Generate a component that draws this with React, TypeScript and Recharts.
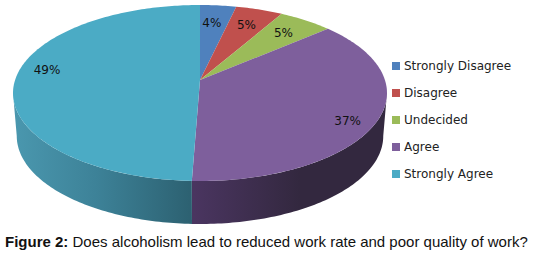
import React from "react";
import { PieChart, Pie, Legend } from "recharts";

const categories = ["Strongly Disagree", "Disagree", "Undecided", "Agree", "Strongly Agree"];
const values = [3.6, 4.7, 5.4, 36.9, 49.4];
const colors = ["#4f81bd", "#c0504d", "#9bbb59", "#7e5f9c", "#4babc5"];
const labelRadii = [0.74, 0.76, 0.77, 0.87, 0.85];
const labelNudges = [-1, 0, 0, 5.3, 7];
const caption = "Does alcoholism lead to reduced work rate and poor quality of work?";

const data = categories.map((name, i) => ({ name, value: values[i], fill: colors[i] }));

// Tilted-disc perspective: the unit circle projected to the picture plane.
const K = 0.1477;
const SX = 0.989;
const SY = 0.4603;
const DEPTH = 43;
const BOTTOM_SCALE = 0.98;
const RAD = Math.PI / 180;

const project = (cx: number, cy: number, R: number, theta: number, r = 1) => {
  const ux = r * Math.sin(theta * RAD);
  const uy = r * Math.cos(theta * RAD);
  const w = 1 + K * uy;
  return { x: cx + (R * SX * ux) / w, y: cy - (R * SY * uy) / w };
};

const sample = (a: number, b: number) => {
  const out: number[] = [];
  const n = Math.max(1, Math.ceil(Math.abs(b - a)));
  for (let i = 0; i <= n; i++) out.push(a + ((b - a) * i) / n);
  return out;
};

const LEFT_LIMIT = 261.5;
const RIGHT_LIMIT = 98.5;

const Slice = (props: any) => {
  const { cx, cy, outerRadius: R, startAngle, endAngle, fill, index } = props;
  const t0 = 90 - startAngle;
  const t1 = 90 - endAngle;
  const top = sample(t0, t1)
    .map((t) => project(cx, cy, R, t))
    .map((p) => `L${p.x.toFixed(2)},${p.y.toFixed(2)}`)
    .join("");
  const a = Math.max(t0, RIGHT_LIMIT);
  const b = Math.min(t1, LEFT_LIMIT);
  let side = "";
  if (b > a) {
    const ts = sample(a, b);
    const upper = ts.map((t) => project(cx, cy, R, t));
    const lower = ts
      .slice()
      .reverse()
      .map((t) => {
        const p = project(cx, cy, R, t);
        return { x: cx + (p.x - cx) * BOTTOM_SCALE, y: p.y + DEPTH };
      });
    side =
      "M" +
      [...upper, ...lower].map((p) => `${p.x.toFixed(2)},${p.y.toFixed(2)}`).join("L") +
      "Z";
  }
  return (
    <g>
      {side && <path d={side} fill={`url(#side${index})`} stroke="none" />}
      <path d={`M${cx},${cy}${top}Z`} fill={fill} stroke="none" />
    </g>
  );
};

const renderLabel = (props: any) => {
  const { cx, cy, outerRadius: R, midAngle, index, value } = props;
  const p = project(cx, cy, R, 90 - midAngle + labelNudges[index], labelRadii[index]);
  return (
    <text
      x={p.x}
      y={p.y}
      textAnchor="middle"
      dominantBaseline="central"
      fontFamily="DejaVu Sans"
      fontSize={12}
      fill="#111"
    >
      {`${Math.round(value)}%`}
    </text>
  );
};

const renderLegend = () => (
  <div style={{ fontFamily: "DejaVu Sans", fontSize: 12, color: "#222" }}>
    {categories.map((c, i) => (
      <div key={c} style={{ display: "flex", alignItems: "center", height: 27.2 }}>
        <span style={{ width: 8, height: 8, background: colors[i], marginRight: 4, flex: "none" }} />
        <span style={{ whiteSpace: "nowrap" }}>{c}</span>
      </div>
    ))}
  </div>
);

export default function App() {
  return (
    <div style={{ position: "absolute", left: 0, top: 0, width: 534, height: 257, background: "#fff" }}>
      <PieChart width={534} height={257} margin={{ top: 0, right: 0, bottom: 0, left: 0 }}>
        <defs>
          <linearGradient id="side3" gradientUnits="userSpaceOnUse" x1="194" y1="0" x2="300" y2="0">
            <stop offset="0" stopColor="#4a3560" />
            <stop offset="1" stopColor="#33283f" />
          </linearGradient>
          <linearGradient id="side4" gradientUnits="userSpaceOnUse" x1="15" y1="0" x2="194" y2="0">
            <stop offset="0" stopColor="#4a97ae" />
            <stop offset="0.45" stopColor="#3d8298" />
            <stop offset="1" stopColor="#2c6070" />
          </linearGradient>
        </defs>
        <Pie
          data={data}
          dataKey="value"
          nameKey="name"
          cx={200}
          cy={80}
          outerRadius={187}
          innerRadius={0}
          startAngle={90}
          endAngle={-270}
          paddingAngle={0}
          stroke="none"
          isAnimationActive={false}
          shape={Slice}
          label={renderLabel}
          labelLine={false}
        />
        <Legend
          layout="vertical"
          align="right"
          verticalAlign="middle"
          content={renderLegend}
          wrapperStyle={{ position: "absolute", left: 392, top: 52, width: 140, right: "auto", bottom: "auto" }}
        />
      </PieChart>
      <div
        style={{
          position: "absolute",
          left: 5,
          top: 233,
          fontFamily: "Liberation Sans",
          fontSize: 15,
          lineHeight: "17px",
          color: "#111",
          whiteSpace: "nowrap",
        }}
      >
        <b>Figure 2:</b> {caption}
      </div>
    </div>
  );
}
